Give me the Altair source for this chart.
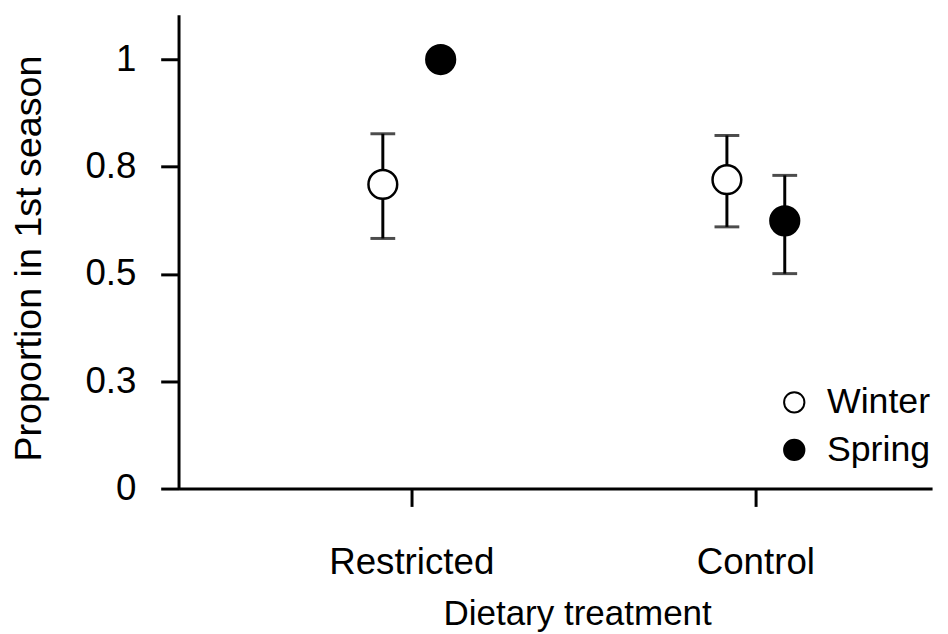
import altair as alt
import pandas as pd

treatment = ["Restricted", "Restricted", "Control", "Control"]
season = ["Winter", "Spring", "Winter", "Spring"]
mean = [0.709, 1.0, 0.720, 0.624]
lower = [0.583, None, 0.610, 0.501]
upper = [0.827, None, 0.823, 0.730]

treat_order = ["Restricted", "Control"]
season_order = ["Winter", "Spring"]
y_ticks = [0, 0.25, 0.5, 0.75, 1.0]

df = pd.DataFrame({"treatment": treatment, "season": season, "mean": mean,
                   "lower": lower, "upper": upper})

FONT = "Liberation Sans"

x_enc = alt.X("treatment:N", sort=treat_order,
              scale=alt.Scale(type="band", paddingInner=0.5, paddingOuter=0.345, align=0.62),
              axis=alt.Axis(title="Dietary treatment", labelAngle=0, labelBaseline="alphabetic",
                            labelPadding=68, labelFontSize=37, titleX=402, titleY=137,
                            titleBaseline="alphabetic", titleAlign="center", titleFontSize=35.3))
xo_enc = alt.XOffset("season:N", sort=season_order,
                     scale=alt.Scale(type="band", paddingInner=0, paddingOuter=0.487))
y_scale = alt.Scale(domain=[0, 1.1047], nice=False, zero=True)
y_axis = alt.Axis(title="Proportion in 1st season", values=y_ticks, format=".1~f",
                  labelPadding=25, labelFontSize=37, titleFontSize=38, titleX=-139,
                  titleY=245.5, titleBaseline="alphabetic", titleAlign="center", titleAngle=-90)

base = alt.Chart(df)

err = base.transform_filter("isValid(datum.lower)")

rules = err.mark_rule(color="black", strokeWidth=3).encode(
    x=x_enc, xOffset=xo_enc,
    y=alt.Y("lower:Q", scale=y_scale, axis=y_axis),
    y2="upper:Q",
)
tick_lo = err.mark_tick(color="black", size=25, thickness=3, orient="horizontal").encode(
    x=x_enc, xOffset=xo_enc, y=alt.Y("lower:Q", scale=y_scale, axis=y_axis))
tick_hi = err.mark_tick(color="black", size=25, thickness=3, orient="horizontal").encode(
    x=x_enc, xOffset=xo_enc, y=alt.Y("upper:Q", scale=y_scale, axis=y_axis))

points = base.mark_point(filled=True, size=840, stroke="black", strokeWidth=2.5, opacity=1).encode(
    x=x_enc, xOffset=xo_enc,
    y=alt.Y("mean:Q", scale=y_scale, axis=y_axis),
    fill=alt.Fill("season:N", sort=season_order,
                  scale=alt.Scale(domain=season_order, range=["white", "black"]),
                  legend=alt.Legend(title=None, orient="none", legendX=603, legendY=373,
                                    symbolType="circle", symbolSize=420,
                                    symbolStrokeColor="black", symbolStrokeWidth=2,
                                    labelFont=FONT, labelFontSize=36, labelColor="black",
                                    labelOffset=15, rowPadding=12, padding=0)),
)

chart = alt.layer(rules, tick_lo, tick_hi, points).properties(
    width=760, height=478,
    autosize=alt.AutoSizeParams(type="none"),
    padding={"left": 172, "top": 4, "right": 8, "bottom": 144},
).configure_view(stroke=None).configure_axis(
    domainColor="black", domainWidth=3, tickColor="black", tickWidth=3, tickSize=18,
    labelFont=FONT, labelFontSize=35, labelColor="black",
    titleFont=FONT, titleFontSize=35, titleFontWeight="normal", titleColor="black",
    grid=False,
).configure_axisY(labelBaseline="middle")

chart = chart.properties(background="white")
chart.save("out.html", embed_options={"renderer": "svg", "actions": False})
